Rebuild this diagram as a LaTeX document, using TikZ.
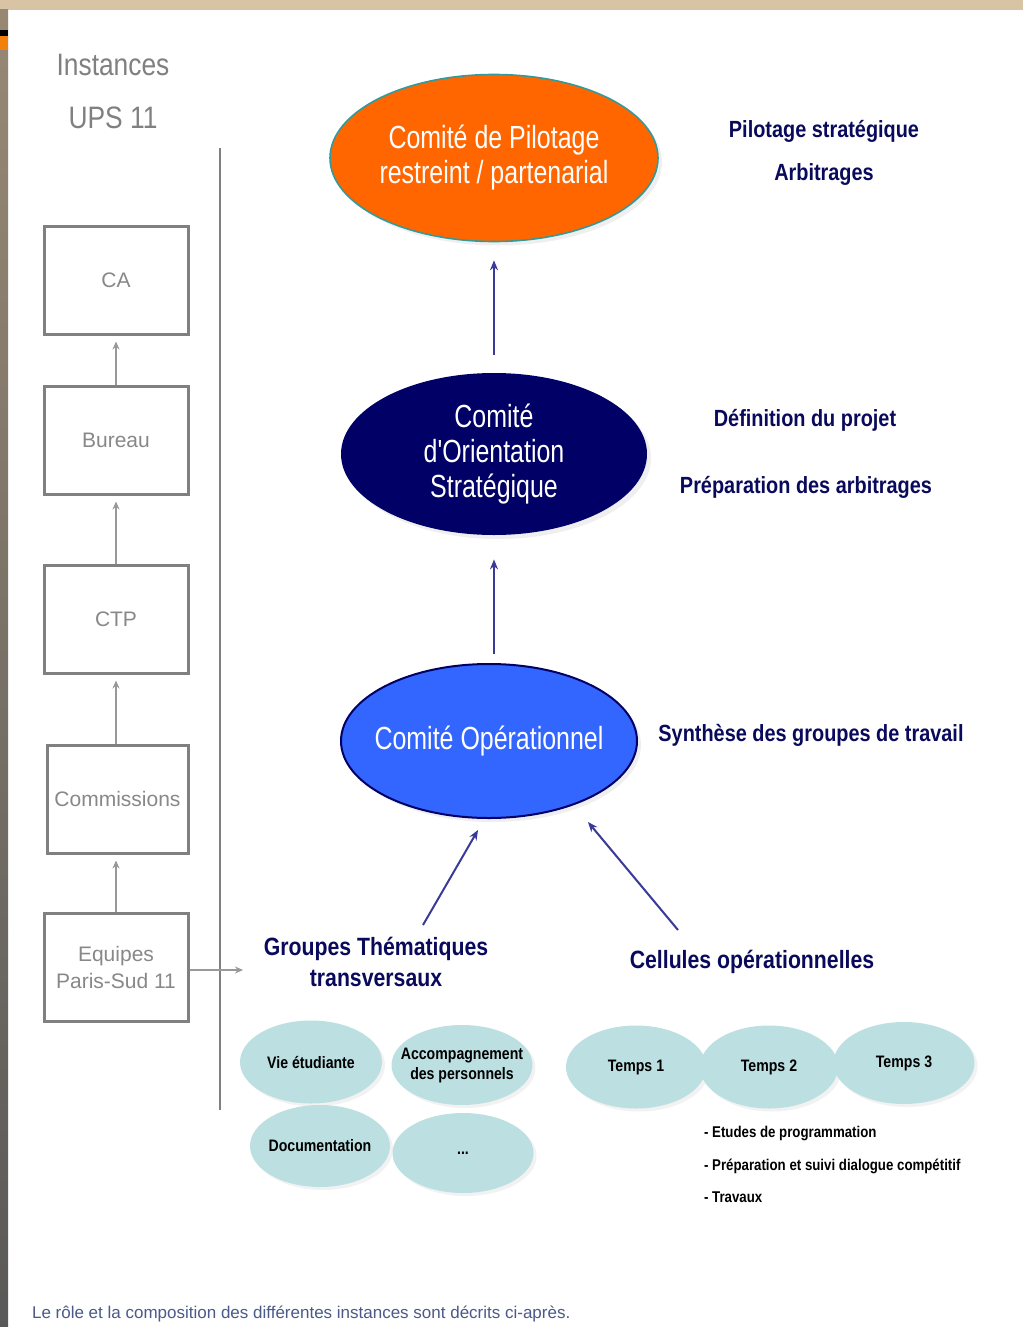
\documentclass[tikz,border=0pt]{standalone}
\usepackage{fontspec}
\setmainfont{Liberation Sans}
\newfontfamily\condA[FakeStretch=0.78]{Liberation Sans}
\newfontfamily\condB[FakeStretch=0.85]{Liberation Sans}
\usetikzlibrary{shapes.geometric,arrows.meta,shadows}
\definecolor{tanbg}{HTML}{D8C3A5}
\definecolor{boxgray}{HTML}{808080}
\definecolor{txtgray}{HTML}{888888}
\definecolor{orng}{HTML}{FF6600}
\definecolor{tealb}{HTML}{339999}
\definecolor{navy}{HTML}{000066}
\definecolor{bluef}{HTML}{3366FF}
\definecolor{arrowblue}{HTML}{3A3A99}
\definecolor{lteal}{HTML}{BCE0E2}
\definecolor{navytxt}{HTML}{0A0A5C}
\definecolor{foot}{HTML}{4A5A8A}
\tikzset{
  instbox/.style={draw=boxgray, line width=1.5pt, fill=white, minimum width=72pt, minimum height=54pt, inner sep=0pt, text=txtgray, font=\fontsize{10.5}{12.5}\selectfont, align=center},
  grayarrow/.style={draw=boxgray!80, line width=1pt, -{Stealth[length=4pt,width=3.5pt]}},
  bluearrow/.style={draw=arrowblue, line width=1pt, -{Stealth[length=5pt,width=4pt]}},
  bigell/.style={ellipse, inner sep=0pt, text=white, align=center, font=\condA\fontsize{16}{17.5}\selectfont, drop shadow={opacity=0.12, shadow xshift=2pt, shadow yshift=-2pt}},
  smallell/.style={ellipse, fill=lteal, inner sep=0pt, minimum width=70.5pt, minimum height=41pt, align=center, text=black, font=\condB\bfseries\fontsize{8.3}{10}\selectfont, drop shadow={opacity=0.10, shadow xshift=1.5pt, shadow yshift=-1.5pt}},
  sidetxt/.style={text=navytxt, font=\condB\bfseries\fontsize{11.7}{14}\selectfont},
  grptxt/.style={text=navytxt, align=center, font=\condB\bfseries\fontsize{12.5}{15.5}\selectfont},
  listtxt/.style={anchor=west, text=black, font=\condB\bfseries\fontsize{7.8}{9}\selectfont}
}
\begin{document}
\begin{tikzpicture}[x=0.5pt,y=-0.5pt]
\useasboundingbox (0,0) rectangle (1023,1327);
\fill[white] (0,0) rectangle (1023,1327);
\fill[tanbg] (0,0) rectangle (1023,10);
\shade[top color=tanbg!70!black, bottom color=black!65] (0,10) rectangle (8,1327);
\fill[black] (0,30) rectangle (8,36);
\fill[orange!80!brown] (0,36) rectangle (8,50);

% left column
\node[text=boxgray, font=\condB\fontsize{15.5}{18}\selectfont] (inst) at (113,65) {Instances};
\node[text=boxgray, font=\condB\fontsize{15.5}{18}\selectfont] (ups) at (113,118) {UPS 11};
\coordinate (lt) at (220,148);
\coordinate (lb) at (220,1110);
\draw[boxgray, line width=1pt] (lt) -- (lb);

\node[instbox] (ca) at (116,280) {CA};
\node[instbox] (bur) at (116,440) {Bureau};
\node[instbox] (ctp) at (116,619) {CTP};
\node[instbox, minimum width=70.5pt] (com) at (117.5,799) {Commissions};
\node[instbox] (equ) at (116,967) {Equipes\\[1pt]Paris-Sud 11};

\draw[grayarrow, shorten >=3pt] (bur) -- (ca);
\draw[grayarrow, shorten >=3pt] (ctp) -- (bur);
\draw[grayarrow, shorten >=3pt] (com.north -| ctp) -- (ctp);
\draw[grayarrow, shorten >=3pt] (equ.north) -- (com.south -| equ);
\coordinate (eqend) at (243,970);
\draw[grayarrow] (equ.east |- eqend) -- (eqend);

% main ellipses
\node[bigell, fill=orng, draw=tealb, line width=0.8pt, minimum width=164pt, minimum height=83.5pt] (cp) at (494,158) {Comité de Pilotage\\restreint / partenarial};
\node[bigell, fill=navy, minimum width=153pt, minimum height=81pt] (cos) at (494,454) {Comité\\d'Orientation\\Stratégique};
\node[bigell, fill=bluef, draw=navy, line width=1pt, minimum width=148pt, minimum height=77pt] (cop) at (489,741) {\makebox[0pt]{Comité Opérationnel}};

\draw[bluearrow, shorten <=9pt, shorten >=9pt] (cos.north) -- (cp.south);
\draw[bluearrow, shorten <=4.5pt, shorten >=12pt] (cos.south |- cop.north) -- (cos.south);

% right texts
\node[sidetxt] (t1) at (824,131) {Pilotage stratégique};
\node[sidetxt] (t2) at (824,175) {Arbitrages};
\node[sidetxt] (t3) at (805,420) {Définition du projet};
\node[sidetxt] (t4) at (806,487) {Préparation des arbitrages};
\node[sidetxt] (t5) at (811,735) {Synthèse des groupes de travail};

% groups
\node[grptxt] (grp) at (376,962) {Groupes Thématiques\\transversaux};
\node[grptxt] (cel) at (752,962) {Cellules opérationnelles};
\coordinate (g1) at (423,925);
\coordinate (g2) at (478,830);
\coordinate (c1) at (678,930);
\coordinate (c2) at (588,822);
\draw[bluearrow] (g1) -- (g2);
\draw[bluearrow] (c1) -- (c2);

% small ellipses
\node[smallell, minimum width=71pt, minimum height=41.5pt] (vie) at (311,1062) {Vie étudiante};
\node[smallell, minimum height=40pt] (acc) at (462,1065) {\makebox[0pt]{\begin{tabular}{@{}c@{}}Accompagnement\\des personnels\end{tabular}}};
\node[smallell, minimum width=70pt] (doc) at (320,1146) {\makebox[0pt]{Documentation}};
\node[smallell, minimum height=40pt] (dots) at (463,1153) {...};
\node[smallell, minimum width=70pt, minimum height=41.5pt] (tp1) at (636,1067) {Temps 1};
\node[smallell, minimum width=69pt, minimum height=41.5pt] (tp2) at (769,1067) {Temps 2};
\node[smallell, minimum height=41pt] (tp3) at (904,1063) {Temps 3};

\node[listtxt] (l1) at (697,1133) {- Etudes de programmation};
\node[listtxt] (l2) at (697,1166) {- Préparation et suivi dialogue compétitif};
\node[listtxt] (l3) at (697,1197) {- Travaux};

\node[anchor=west, text=foot, font=\fontsize{8.5}{10}\selectfont] (foot) at (25,1314) {Le rôle et la composition des différentes instances sont décrits ci-après.};
\end{tikzpicture}
\end{document}
